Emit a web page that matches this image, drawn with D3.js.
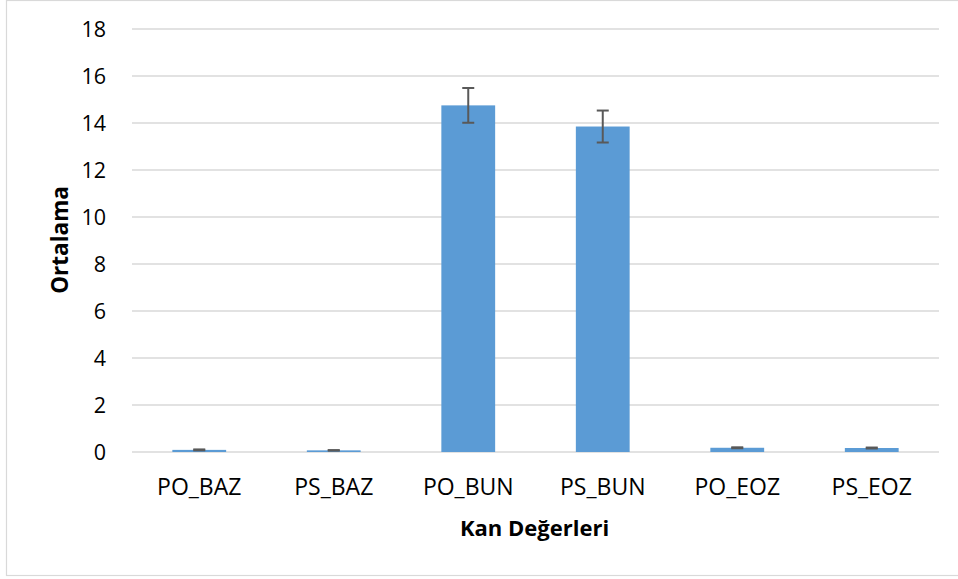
<!DOCTYPE html>
<html>
<head>
<meta charset="utf-8">
<script src="https://cdn.jsdelivr.net/npm/d3@7/dist/d3.min.js"></script>
<style>
  html, body { margin: 0; padding: 0; background: #ffffff; }
  svg { display: block; font-family: "Open Sans", "Liberation Sans", sans-serif; }
</style>
</head>
<body>
<svg id="chart" width="958" height="579"></svg>
<script>
const categories = ["PO_BAZ", "PS_BAZ", "PO_BUN", "PS_BUN", "PO_EOZ", "PS_EOZ"];
const means = [0.09, 0.07, 14.75, 13.85, 0.18, 0.17];
const errors = [0.02, 0.01, 0.74, 0.68, 0.02, 0.02];
const yTicks = [0, 2, 4, 6, 8, 10, 12, 14, 16, 18];
const yTitle = "Ortalama";
const xTitle = "Kan Değerleri";

const svg = d3.select("#chart");
const plot = { left: 132, right: 939, top: 29, bottom: 452 };

// chart frame
svg.append("rect")
  .attr("x", 6.5).attr("y", 0.5)
  .attr("width", 960).attr("height", 575)
  .attr("fill", "#ffffff")
  .attr("stroke", "#d9d9d9").attr("stroke-width", 1.2);

const x = d3.scaleBand()
  .domain(categories)
  .range([plot.left, plot.right])
  .paddingInner(0.6)
  .paddingOuter(0.3);

const y = d3.scaleLinear()
  .domain([0, 18])
  .range([plot.bottom, plot.top]);

// gridlines
svg.append("g")
  .selectAll("line")
  .data(yTicks)
  .join("line")
  .attr("x1", plot.left).attr("x2", plot.right)
  .attr("y1", d => y(d)).attr("y2", d => y(d))
  .attr("stroke", "#d9d9d9").attr("stroke-width", 1.5);

// y tick labels
svg.append("g")
  .selectAll("text")
  .data(yTicks)
  .join("text")
  .attr("x", 106)
  .attr("y", d => y(d))
  .attr("dy", "0.36em")
  .attr("text-anchor", "end")
  .attr("font-size", 21.5)
  .attr("fill", "#000")
  .text(d => d);

// bars
svg.append("g")
  .selectAll("rect")
  .data(categories)
  .join("rect")
  .attr("x", d => x(d))
  .attr("width", x.bandwidth())
  .attr("y", (d, i) => y(means[i]))
  .attr("height", (d, i) => y(0) - y(means[i]))
  .attr("fill", "#5b9bd5");

// error bars
const eb = svg.append("g").attr("stroke", "#595959").attr("stroke-width", 2);
categories.forEach((c, i) => {
  const cx = x(c) + x.bandwidth() / 2;
  const hi = y(means[i] + errors[i]);
  const lo = y(means[i] - errors[i]);
  eb.append("line").attr("x1", cx).attr("x2", cx).attr("y1", hi).attr("y2", lo);
  eb.append("line").attr("x1", cx - 6).attr("x2", cx + 6).attr("y1", hi).attr("y2", hi);
  eb.append("line").attr("x1", cx - 6).attr("x2", cx + 6).attr("y1", lo).attr("y2", lo);
});

// x category labels
svg.append("g")
  .selectAll("text")
  .data(categories)
  .join("text")
  .attr("x", d => x(d) + x.bandwidth() / 2)
  .attr("y", 487)
  .attr("dy", "0.36em")
  .attr("text-anchor", "middle")
  .attr("font-size", 23)
  .attr("fill", "#000")
  .text(d => d);

// axis titles
svg.append("text")
  .attr("x", (plot.left + plot.right) / 2 - 1)
  .attr("y", 528)
  .attr("dy", "0.36em")
  .attr("text-anchor", "middle")
  .attr("font-size", 22)
  .attr("font-weight", "bold")
  .attr("fill", "#000")
  .text(xTitle);

svg.append("text")
  .attr("transform", "translate(60,240) rotate(-90)")
  .attr("dy", "0.36em")
  .attr("text-anchor", "middle")
  .attr("font-size", 22.5)
  .attr("font-weight", "bold")
  .attr("fill", "#000")
  .text(yTitle);
</script>
</body>
</html>
